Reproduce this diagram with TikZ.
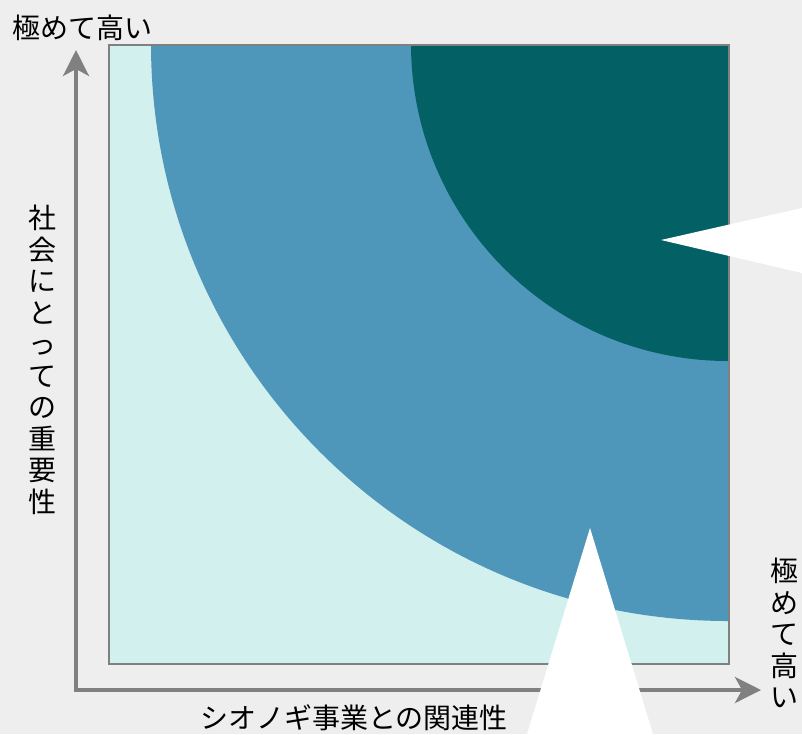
\documentclass[tikz,border=0pt]{standalone}
\usepackage{fontspec}
\setmainfont{Noto Sans CJK JP}
\usetikzlibrary{arrows.meta}
\definecolor{bgc}{HTML}{EEEEEE}
\definecolor{lightc}{HTML}{D2F0EE}
\definecolor{midc}{HTML}{4F97BA}
\definecolor{darkc}{HTML}{036166}
\definecolor{axisc}{HTML}{808080}
\tikzset{
  lbl/.style={inner sep=0pt, font=\fontsize{28}{31.5}\selectfont, text=black},
  vlbl/.style={lbl, align=center},
  axisline/.style={draw=axisc, line width=4pt, -{Stealth[length=26pt,width=26pt,inset=7pt]}},
  callout/.style={fill=white, draw=none}
}
\begin{document}
\begin{tikzpicture}[x=1pt,y=-1pt]
\fill[bgc] (0,0) rectangle (802,734);
\useasboundingbox (0,0) rectangle (802,734);
% square
\fill[lightc] (108,44) rectangle (728,663);
\begin{scope}
  \clip (108,44) rectangle (728,663);
  \fill[midc] (728,44) circle[radius=577];
  \fill[darkc] (728,44) circle[radius=317];
\end{scope}
\node[draw=axisc, line width=2pt, minimum width=620pt, minimum height=619pt, inner sep=0pt, anchor=north west] (sq) at (108,44) {};
% axes
\coordinate (o) at (76,690);
\coordinate (ytip) at (76,50);
\coordinate (xtip) at (761,690);
\draw[axisline] (o) -- (ytip);
\draw[axisline] (o) -- (xtip);
\fill[axisc] (74,688) rectangle (78,692);
% callouts
\coordinate (c1) at (661,240);
\coordinate (c1a) at (802,208);
\coordinate (c1b) at (802,273);
\fill[callout] (c1) -- (c1a) -- (c1b) -- cycle;
\coordinate (c2) at (590,528);
\coordinate (c2a) at (527,734);
\coordinate (c2b) at (653,734);
\fill[callout] (c2) -- (c2a) -- (c2b) -- cycle;
% labels
\node[lbl, anchor=west] (ytop) at (12,28) {極めて高い};
\node[lbl] (xlab) at (354,718) {シオノギ事業との関連性};
\node[vlbl] (ylab) at (42.5,360) {社\\会\\に\\と\\っ\\て\\の\\重\\要\\性};
\node[vlbl] (xright) at (784,633) {極\\め\\て\\高\\い};
\end{tikzpicture}
\end{document}
